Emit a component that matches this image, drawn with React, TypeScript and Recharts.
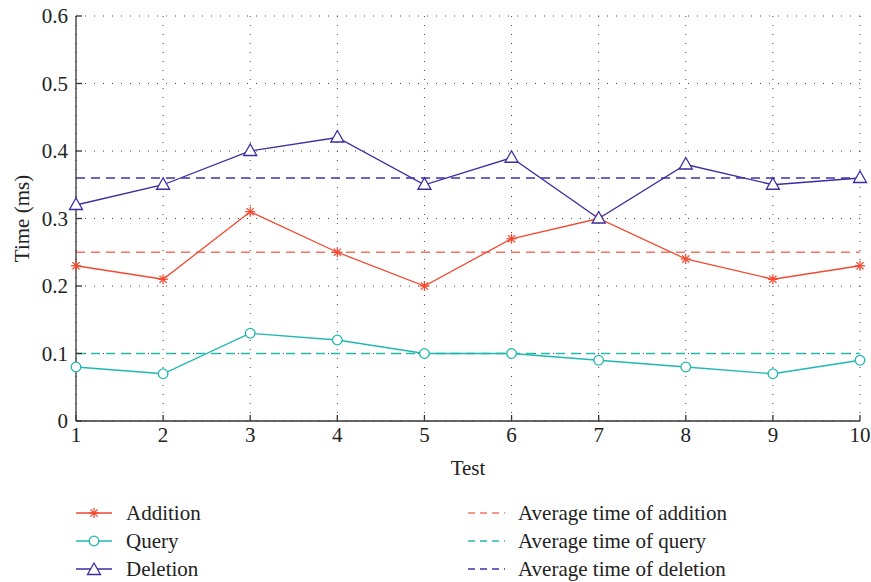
import { LineChart, Line, XAxis, YAxis, CartesianGrid, ReferenceLine } from 'recharts';

const tests = [1, 2, 3, 4, 5, 6, 7, 8, 9, 10];
const addition = [0.23, 0.21, 0.31, 0.25, 0.2, 0.27, 0.3, 0.24, 0.21, 0.23];
const query = [0.08, 0.07, 0.13, 0.12, 0.1, 0.1, 0.09, 0.08, 0.07, 0.09];
const deletion = [0.32, 0.35, 0.4, 0.42, 0.35, 0.39, 0.3, 0.38, 0.35, 0.36];

const avgAddition = 0.25;
const avgQuery = 0.1;
const avgDeletion = 0.36;

const yTicks = [0, 0.1, 0.2, 0.3, 0.4, 0.5, 0.6];

const data = tests.map((t, i) => ({
  test: t,
  addition: addition[i],
  query: query[i],
  deletion: deletion[i],
}));

const RED = '#f2492f';
const RED_AVG = '#f27563';
const CYAN = '#1fb8b0';
const CYAN_AVG = '#25bba9';
const BLUE = '#3a2d9e';
const BLUE_AVG = '#3b33b0';
const FONT = "'Liberation Serif', 'Times New Roman', serif";
const FS = 21;

function Star({ cx, cy, color }: { cx: number; cy: number; color: string }) {
  const r = 5;
  const d = r * 0.72;
  return (
    <g stroke={color} strokeWidth={1.3}>
      <line x1={cx - r} y1={cy} x2={cx + r} y2={cy} />
      <line x1={cx} y1={cy - r} x2={cx} y2={cy + r} />
      <line x1={cx - d} y1={cy - d} x2={cx + d} y2={cy + d} />
      <line x1={cx - d} y1={cy + d} x2={cx + d} y2={cy - d} />
    </g>
  );
}

function Tri({ cx, cy, color }: { cx: number; cy: number; color: string }) {
  return (
    <polygon
      points={`${cx},${cy - 7} ${cx - 6.5},${cy + 4.5} ${cx + 6.5},${cy + 4.5}`}
      fill="#fff"
      stroke={color}
      strokeWidth={1.3}
    />
  );
}

function Circ({ cx, cy, color }: { cx: number; cy: number; color: string }) {
  return <circle cx={cx} cy={cy} r={4.8} fill="#fff" stroke={color} strokeWidth={1.3} />;
}

const legendLeft = [
  { label: 'Addition', color: RED, marker: 'star' },
  { label: 'Query', color: CYAN, marker: 'circle' },
  { label: 'Deletion', color: BLUE, marker: 'tri' },
];
const legendRight = [
  { label: 'Average time of addition', color: RED_AVG },
  { label: 'Average time of query', color: CYAN_AVG },
  { label: 'Average time of deletion', color: BLUE_AVG },
];

function LegendIcon({ color, marker }: { color: string; marker?: string }) {
  return (
    <svg width={38} height={20} style={{ display: 'block' }}>
      {marker ? (
        <>
          <line x1={0} y1={10} x2={36} y2={10} stroke={color} strokeWidth={1.3} />
          {marker === 'star' && <Star cx={18} cy={10} color={color} />}
          {marker === 'circle' && <Circ cx={18} cy={10} color={color} />}
          {marker === 'tri' && <Tri cx={18} cy={11} color={color} />}
        </>
      ) : (
        <line x1={0} y1={10} x2={37} y2={10} stroke={color} strokeWidth={1.5} strokeDasharray="7 5" />
      )}
    </svg>
  );
}

export default function App() {
  const dot = (C: any, color: string) => (props: any) =>
    <C key={`d-${props.index}`} cx={props.cx} cy={props.cy} color={color} />;

  return (
    <div style={{ position: 'absolute', left: 0, top: 0, width: 871, height: 582, background: '#fff', fontFamily: FONT }}>
      <LineChart width={871} height={490} data={data} margin={{ top: 16, right: 11, left: 0, bottom: 0 }} style={{ fontFamily: FONT }}>
        <CartesianGrid stroke="#444" strokeDasharray="1 8" strokeWidth={1} />
        <XAxis
          dataKey="test"
          type="number"
          domain={[1, 10]}
          ticks={tests}
          height={69}
          tickSize={-6}
          tickMargin={12}
          stroke="#333"
          strokeWidth={1.3}
          tick={{ fill: '#222', fontSize: FS, fontFamily: FONT }}
          label={{
            content: ({ viewBox }: any) => (
              <text x={viewBox.x + viewBox.width / 2} y={viewBox.y + 54} textAnchor="middle" fill="#222" fontSize={FS} style={{ fontFamily: FONT }}>
                Test
              </text>
            ),
          }}
        />
        <XAxis
          xAxisId="top"
          orientation="top"
          type="number"
          domain={[1, 10]}
          ticks={tests}
          height={0}
          tickSize={-6}
          tickFormatter={() => ''}
          stroke="#333"
          strokeWidth={1.3}
        />
        <YAxis
          type="number"
          domain={[0, 0.6]}
          ticks={yTicks}
          width={76}
          tickSize={-6}
          tickMargin={14}
          stroke="#333"
          strokeWidth={1.3}
          tick={{ fill: '#222', fontSize: FS, fontFamily: FONT }}
          label={{
            content: ({ viewBox }: any) => {
              const x = 22;
              const y = viewBox.y + viewBox.height / 2;
              return (
                <text x={x} y={y} transform={`rotate(-90, ${x}, ${y})`} textAnchor="middle" dominantBaseline="central" fill="#222" fontSize={FS} style={{ fontFamily: FONT }}>
                  Time (ms)
                </text>
              );
            },
          }}
        />
        <YAxis
          yAxisId="right"
          orientation="right"
          type="number"
          domain={[0, 0.6]}
          ticks={yTicks}
          width={0}
          tickSize={-6}
          tickFormatter={() => ''}
          stroke="#333"
          strokeWidth={1.3}
        />
        <ReferenceLine y={avgAddition} stroke={RED_AVG} strokeWidth={1.5} strokeDasharray="9 6" />
        <ReferenceLine y={avgQuery} stroke={CYAN_AVG} strokeWidth={1.5} strokeDasharray="9 6" />
        <ReferenceLine y={avgDeletion} stroke={BLUE_AVG} strokeWidth={1.5} strokeDasharray="9 6" />
        <Line dataKey="addition" stroke={RED} strokeWidth={1.3} dot={dot(Star, RED)} isAnimationActive={false} type="linear" />
        <Line dataKey="query" stroke={CYAN} strokeWidth={1.3} dot={dot(Circ, CYAN)} isAnimationActive={false} type="linear" />
        <Line dataKey="deletion" stroke={BLUE} strokeWidth={1.3} dot={dot(Tri, BLUE)} isAnimationActive={false} type="linear" />
      </LineChart>
      {[legendLeft, legendRight].map((col, ci) => (
        <div key={ci} style={{ position: 'absolute', top: 499, left: ci === 0 ? 76 : 468 }}>
          {col.map((item: any) => (
            <div key={item.label} style={{ display: 'flex', alignItems: 'center', height: 28 }}>
              <LegendIcon color={item.color} marker={item.marker} />
              <span style={{ marginLeft: 12, fontSize: FS, color: '#222', lineHeight: '28px', fontFamily: FONT }}>{item.label}</span>
            </div>
          ))}
        </div>
      ))}
    </div>
  );
}
